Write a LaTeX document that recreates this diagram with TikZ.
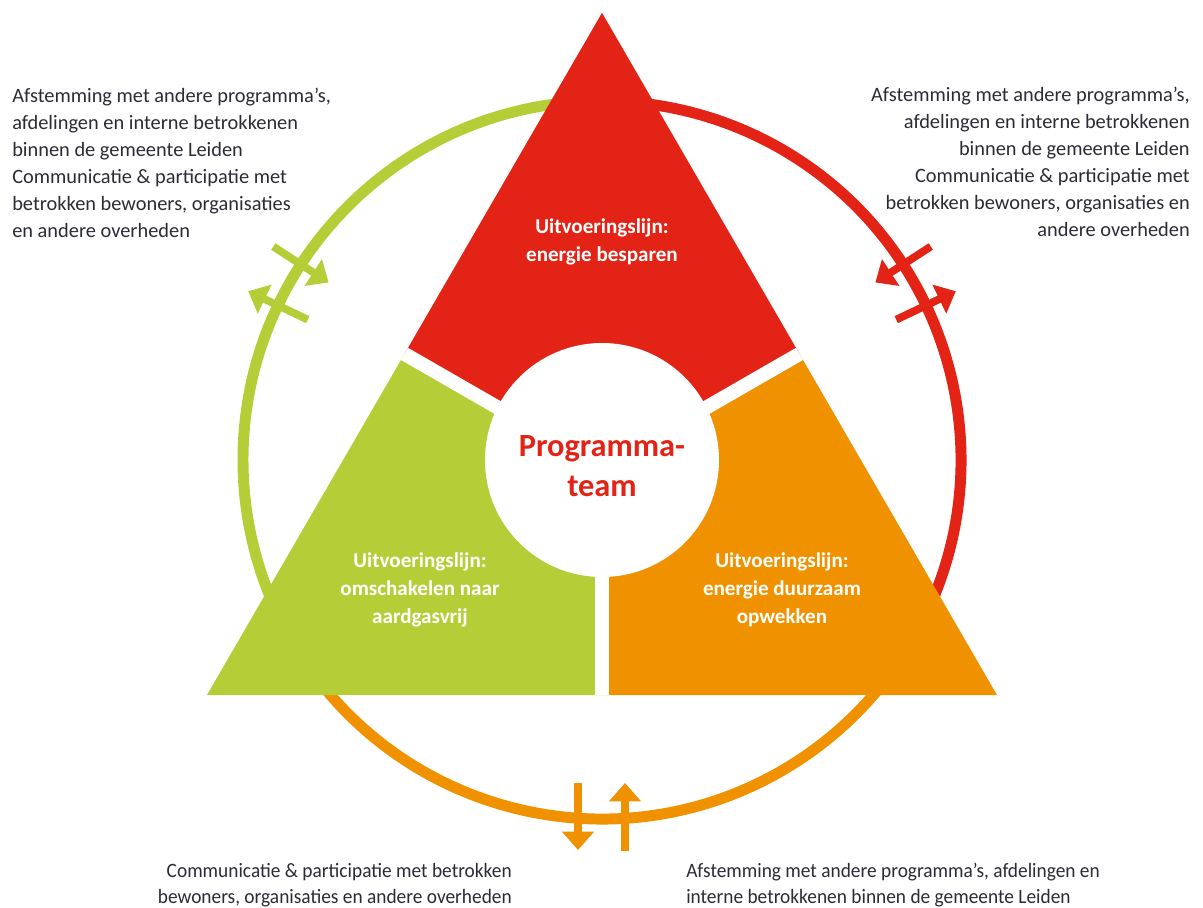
\documentclass[tikz,border=0pt]{standalone}
\usepackage{fontspec}
\setmainfont{Carlito}
\newfontfamily\condfont[FakeStretch=0.95]{Carlito}
\usetikzlibrary{arrows.meta}
\definecolor{ldred}{HTML}{E32316}
\definecolor{ldgreen}{HTML}{B5CE38}
\definecolor{ldorange}{HTML}{F09200}
\definecolor{ldtext}{HTML}{2B2B36}

\begin{document}
\begin{tikzpicture}[
        ring/.style={line width=7.8pt},
        flow/.style={line width=5.5pt, -{Triangle[width=22pt,length=13pt]}},
        gap/.style={white, line width=10pt},
        lijn/.style={text=white, font=\fontsize{15}{19.9}\selectfont\bfseries, align=center},
        info/.style={text=ldtext, font=\fontsize{14.5}{19.2}\selectfont, inner sep=0pt},
        infocond/.style={text=ldtext, font=\condfont\fontsize{14.5}{18.5}\selectfont, inner sep=0pt},
    ]
            \useasboundingbox (-15.05, 11.5) rectangle (15.025, -11.175);
            %
            \draw[ring, ldgreen] (90:8.975) arc (90:210:8.975);
            \draw[ring, ldred] (-30:8.975) arc (-30:90:8.975);
            \draw[ring, ldorange] (210:8.975) arc (210:330:8.975);
            %
            \draw[flow, ldgreen] (147:9.8) -- (147:8.15);
            \draw[flow, ldgreen] (154.5:8.15) -- (154.5:9.8);
            \draw[flow, ldred] (33:9.8) -- (33:8.15);
            \draw[flow, ldred] (25.5:8.15) -- (25.5:9.8);
            \draw[flow, ldorange] (-0.6, -8.075) -- (-0.6, -9.75);
            \draw[flow, ldorange] (0.575, -9.775) -- (0.575, -8.075);
            %
            \coordinate (apex) at (0, 11.18);
            \coordinate (bl) at (-9.875, -5.875);
            \coordinate (br) at (9.875, -5.875);
            \coordinate (ml) at (-4.9375, 2.6525);
            \coordinate (mr) at (4.9375, 2.6525);
            \coordinate (mb) at (0, -5.875);
            \coordinate (g) at (0, -0.19);
            %
            \fill[ldred] (apex) -- (ml) -- (g) -- (mr) -- cycle;
            \fill[ldgreen] (bl) -- (ml) -- (g) -- (mb) -- cycle;
            \fill[ldorange] (br) -- (mr) -- (g) -- (mb) -- cycle;
            %
            \draw[gap] (g) -- (ml);
            \draw[gap] (g) -- (mr);
            \draw[gap] (g) -- (mb);
            \fill[white] (0,0) circle (2.925);
            %
            \node[align=center, text=ldred, font=\fontsize{23}{28.4}\selectfont\bfseries] (team) at (0,-0.15)
                {Programma-\\team};
            %
            \node[lijn] (besparen) at (0, 5.45) {Uitvoeringslijn:\\energie besparen};
            \node[lijn] (aardgasvrij) at (-4.55, -3.24) {Uitvoeringslijn:\\omschakelen naar\\aardgasvrij};
            \node[lijn] (opwekken) at (4.5, -3.24) {Uitvoeringslijn:\\energie duurzaam\\opwekken};
            %
            \node[info, anchor=west, align=left] (infoleft) at (-14.75, 7.43)
                {Afstemming met andere programma’s,\\afdelingen en interne betrokkenen\\binnen de gemeente Leiden\\Communicatie \& participatie met\\betrokken bewoners, organisaties\\en andere overheden};
            \node[info, anchor=east, align=right] (inforight) at (14.7, 7.45)
                {Afstemming met andere programma’s,\\afdelingen en interne betrokkenen\\binnen de gemeente Leiden\\Communicatie \& participatie met\\betrokken bewoners, organisaties en\\andere overheden};
            \node[infocond, anchor=east, align=right] (infobl) at (-2.25, -10.625)
                {Communicatie \& participatie met betrokken\\bewoners, organisaties en andere overheden};
            \node[infocond, anchor=west, align=left] (infobr) at (2.1, -10.625)
                {Afstemming met andere programma’s, afdelingen en\\interne betrokkenen binnen de gemeente Leiden};
        \end{tikzpicture}
\end{document}
